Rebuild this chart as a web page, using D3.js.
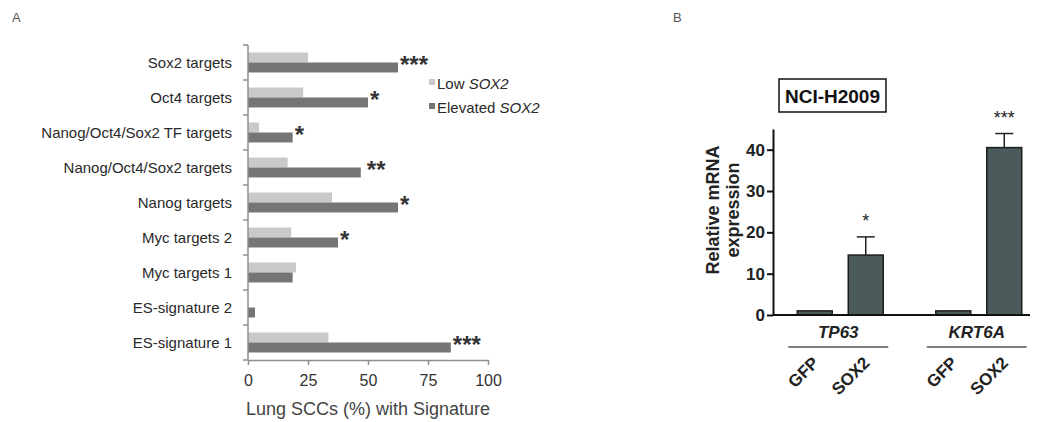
<!DOCTYPE html>
<html>
<head>
  <meta charset="utf-8">
  <title>SOX2 signatures</title>
  <script src="https://cdn.jsdelivr.net/npm/d3@7"></script>
  <style>
    body { margin: 0; background: #fff; font-family: "Liberation Sans", Arial, sans-serif; }
    svg { display: block; }
  </style>
</head>
<body>
  <svg id="chart" width="1040" height="422"></svg>
  <script>
    // panel A data
    const signatures = ['Sox2 targets', 'Oct4 targets', 'Nanog/Oct4/Sox2 TF targets', 'Nanog/Oct4/Sox2 targets',
      'Nanog targets', 'Myc targets 2', 'Myc targets 1', 'ES-signature 2', 'ES-signature 1'];
    const lowSox2 = [25, 23, 4.6, 16.5, 35, 18, 20, 0, 33.5];
    const elevatedSox2 = [62.5, 50, 18.6, 47, 62.5, 37.5, 18.6, 2.9, 84.5];
    const sigA = ['***', '*', '*', '**', '*', '*', '', '', '***'];
    const xTicksA = [0, 25, 50, 75, 100];

    // panel B data
    const genes = ['TP63', 'KRT6A'];
    const conditions = ['GFP', 'SOX2'];
    const meanB = [[1, 14.5], [1, 40.5]];
    const errB = [[0, 4.4], [0, 3.4]];
    const sigB = [['', '*'], ['', '***']];
    const yTicksB = [0, 10, 20, 30, 40];

    const svg = d3.select('#chart');
    const font = '"Liberation Sans", Arial, sans-serif';

    // ---------- panel A ----------
    svg.append('text').attr('x', 12).attr('y', 22).text('A')
      .style('font-family', font).style('font-size', '13px').attr('fill', '#555');

    const xA = d3.scaleLinear().domain([0, 100]).range([248, 488]);
    const yA = d3.scaleBand().domain(signatures).range([45, 360]).paddingInner(0.43).paddingOuter(0.215);
    const innerA = d3.scaleBand().domain(['low', 'elev']).range([0, yA.bandwidth()]);
    const colA = { low: '#c9c9c9', elev: '#757575' };
    const axisCol = '#8f8f8f';

    const gA = svg.append('g');
    const rows = signatures.map((s, i) => ({ s, low: lowSox2[i], elev: elevatedSox2[i], sig: sigA[i] }));

    const row = gA.selectAll('g.row').data(rows).enter().append('g')
      .attr('transform', d => `translate(0,${yA(d.s)})`);
    ['low', 'elev'].forEach(k => {
      row.append('rect')
        .attr('x', xA(0))
        .attr('y', innerA(k))
        .attr('width', d => xA(d[k]) - xA(0))
        .attr('height', innerA.bandwidth())
        .attr('fill', colA[k]);
    });
    row.append('text')
      .attr('x', d => xA(d.elev) + (d.sig === '**' ? 6 : 2))
      .attr('y', 20)
      .text(d => d.sig)
      .style('font-family', font).style('font-size', '24px').style('font-weight', 'bold').attr('fill', '#333');

    // category labels
    gA.selectAll('text.cat').data(signatures).enter().append('text')
      .attr('x', 232)
      .attr('y', d => yA(d) + yA.bandwidth() / 2 + 5)
      .attr('text-anchor', 'end')
      .text(d => d)
      .style('font-family', font).style('font-size', '15px').attr('fill', '#2a2a2a');

    // y axis line with ticks at band edges
    const stepA = yA.step();
    const edges = d3.range(signatures.length + 1).map(i => 45 + i * stepA);
    gA.append('line').attr('x1', xA(0)).attr('x2', xA(0)).attr('y1', 45).attr('y2', 360)
      .attr('stroke', axisCol).attr('stroke-width', 1.5);
    gA.selectAll('line.ytick').data(edges).enter().append('line')
      .attr('x1', xA(0) - 5).attr('x2', xA(0)).attr('y1', d => d).attr('y2', d => d)
      .attr('stroke', axisCol).attr('stroke-width', 1.5);

    const xAxisA = gA.append('g').attr('transform', 'translate(0,360)')
      .call(d3.axisBottom(xA).tickValues(xTicksA).tickSize(5).tickSizeOuter(0).tickPadding(10));
    xAxisA.select('.domain').attr('stroke', axisCol).attr('stroke-width', 1.5);
    xAxisA.selectAll('.tick line').attr('stroke', axisCol).attr('stroke-width', 1.5);
    xAxisA.selectAll('.tick text').style('font-family', font).style('font-size', '16px').attr('fill', '#333');

    gA.append('text').attr('x', 368).attr('y', 415).attr('text-anchor', 'middle')
      .text('Lung SCCs (%) with Signature')
      .style('font-family', font).style('font-size', '18px').attr('fill', '#444');

    // legend
    const legend = [{ k: 'low', label: 'Low ', y: 84 }, { k: 'elev', label: 'Elevated ', y: 108 }];
    const lg = gA.selectAll('g.leg').data(legend).enter().append('g');
    lg.append('rect').attr('x', 429).attr('y', d => d.y - 5).attr('width', 6).attr('height', 6)
      .attr('fill', d => colA[d.k]);
    const lt = lg.append('text').attr('x', 437).attr('y', d => d.y + 5)
      .style('font-family', font).style('font-size', '15px').attr('fill', '#2a2a2a');
    lt.append('tspan').text(d => d.label);
    lt.append('tspan').style('font-style', 'italic').text('SOX2');

    // ---------- panel B ----------
    svg.append('text').attr('x', 673).attr('y', 22).text('B')
      .style('font-family', font).style('font-size', '13px').attr('fill', '#555');

    const yB = d3.scaleLinear().domain([0, 45]).range([315, 129]);
    const x0 = d3.scaleBand().domain(genes).range([771, 1048]);
    const x1 = d3.scaleBand().domain(conditions).range([0, x0.bandwidth()])
      .paddingInner(0.314).paddingOuter(0.515);
    const barCol = '#4b5a5a';
    const gB = svg.append('g');

    // title box
    gB.append('rect').attr('x', 779).attr('y', 79).attr('width', 107).attr('height', 33)
      .attr('fill', 'none').attr('stroke', '#111').attr('stroke-width', 1.5);
    gB.append('text').attr('x', 832.5).attr('y', 102.5).attr('text-anchor', 'middle')
      .text('NCI-H2009')
      .style('font-family', font).style('font-size', '19px').style('font-weight', 'bold').attr('fill', '#111');

    const bars = [];
    genes.forEach((g, gi) => conditions.forEach((c, ci) => {
      bars.push({ g, c, v: meanB[gi][ci], e: errB[gi][ci], sig: sigB[gi][ci] });
    }));

    const bar = gB.selectAll('g.bar').data(bars).enter().append('g')
      .attr('transform', d => `translate(${x0(d.g) + x1(d.c)},0)`);
    const bw = x1.bandwidth();
    bar.filter(d => d.e > 0).append('line')
      .attr('x1', bw / 2).attr('x2', bw / 2)
      .attr('y1', d => yB(d.v)).attr('y2', d => yB(d.v + d.e))
      .attr('stroke', '#222').attr('stroke-width', 1.5);
    bar.filter(d => d.e > 0).append('line')
      .attr('x1', bw / 2 - 9).attr('x2', bw / 2 + 9)
      .attr('y1', d => yB(d.v + d.e)).attr('y2', d => yB(d.v + d.e))
      .attr('stroke', '#222').attr('stroke-width', 1.5);
    bar.append('rect')
      .attr('x', 0).attr('width', bw)
      .attr('y', d => yB(d.v)).attr('height', d => yB(0) - yB(d.v))
      .attr('fill', barCol).attr('stroke', '#1e1e1e').attr('stroke-width', 1.5);
    bar.append('text')
      .attr('x', bw / 2).attr('y', d => yB(d.v + d.e) - 10)
      .attr('text-anchor', 'middle')
      .text(d => d.sig)
      .style('font-family', font).style('font-size', '18px').attr('fill', '#222');

    // condition labels
    bar.append('text')
      .attr('transform', `translate(${bw / 2 + 5},364) rotate(-45)`)
      .attr('text-anchor', 'end')
      .text(d => d.c)
      .style('font-family', font).style('font-size', '17px').style('font-weight', 'bold').attr('fill', '#222');

    // gene labels + underline
    const gl = gB.selectAll('g.gene').data(genes).enter().append('g')
      .attr('transform', d => `translate(${x0(d) + x0.bandwidth() / 2 - 2},0)`);
    gl.append('text').attr('x', 0).attr('y', 338).attr('text-anchor', 'middle')
      .text(d => d)
      .style('font-family', font).style('font-size', '17px').style('font-weight', 'bold')
      .style('font-style', 'italic').attr('fill', '#222');
    gl.append('line').attr('x1', -50).attr('x2', 50).attr('y1', 347).attr('y2', 347)
      .attr('stroke', '#555').attr('stroke-width', 1.5);

    // axes
    const yAxisB = gB.append('g').attr('transform', 'translate(773,0)')
      .call(d3.axisLeft(yB).tickValues(yTicksB).tickSize(6).tickSizeOuter(0).tickPadding(2));
    yAxisB.select('.domain').attr('stroke', '#111').attr('stroke-width', 2);
    yAxisB.selectAll('.tick line').attr('stroke', '#111').attr('stroke-width', 2);
    yAxisB.selectAll('.tick text').style('font-family', font).style('font-size', '17px')
      .style('font-weight', 'bold').attr('fill', '#222');

    gB.append('line').attr('x1', 773).attr('x2', 1030).attr('y1', yB(0)).attr('y2', yB(0))
      .attr('stroke', '#111').attr('stroke-width', 2);

    const yt = gB.append('text').attr('transform', 'translate(719,210) rotate(-90)')
      .attr('text-anchor', 'middle')
      .style('font-family', font).style('font-size', '18px').style('font-weight', 'bold').attr('fill', '#222');
    yt.append('tspan').attr('x', 0).attr('dy', 0).text('Relative mRNA');
    yt.append('tspan').attr('x', 0).attr('dy', 20).text('expression');
  </script>
</body>
</html>
